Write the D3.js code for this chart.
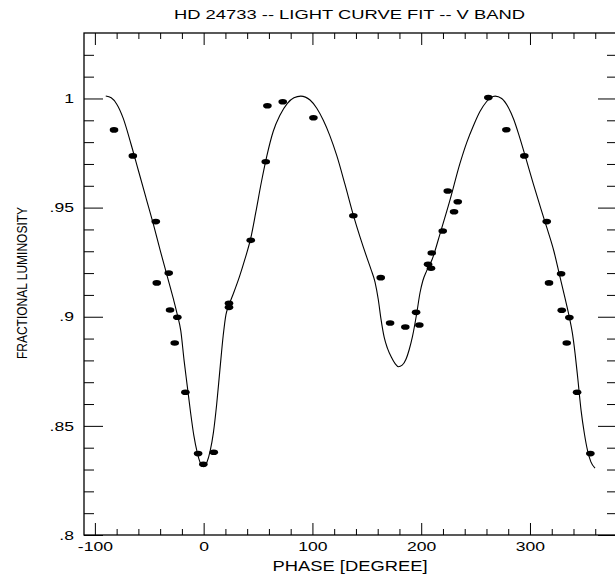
<!DOCTYPE html>
<html>
<head>
<meta charset="utf-8">
<script src="https://cdn.jsdelivr.net/npm/d3@7"></script>
<style>
  body { margin: 0; background: #fff; }
  text { font-family: "Liberation Sans", Arial, sans-serif; fill: #000; }
</style>
</head>
<body>
<script>
// observed points (phase in degrees, fractional luminosity)
var obsPhase = [-82.4, -65.1, -44.0, -43.1, -32.1, -30.9, -26.6, -24.2, -16.8, -5.1, -0.3, 9.3,
  23.3, 23.3, 43.3, 57.1, 58.6, 72.7, 100.9, 137.6, 162.8, 171.4, 185.4, 195.3, 198.3,
  206.3, 209.0, 209.7, 219.8, 224.4, 230.2, 233.6, 261.7, 278.3, 294.8, 315.4, 317.5,
  328.6, 329.2, 333.8, 336.2, 343.3, 355.5];
var obsLum = [0.9856, 0.9737, 0.9436, 0.9155, 0.9200, 0.9031, 0.8880, 0.8998, 0.8654, 0.8373, 0.8324, 0.8379,
  0.9062, 0.9043, 0.9350, 0.9710, 0.9967, 0.9985, 0.9912, 0.9463, 0.9179, 0.8971, 0.8953, 0.9020, 0.8962,
  0.9240, 0.9222, 0.9292, 0.9393, 0.9576, 0.9481, 0.9527, 1.0004, 0.9857, 0.9737, 0.9436, 0.9155,
  0.9197, 0.9030, 0.8880, 0.8996, 0.8654, 0.8373];

// fitted light curve
var fitPhase = [-90, -85, -80, -74, -67, -60, -53, -46, -40, -34, -28, -24, -21, -18, -15, -12, -9, -6, -3, 0,
  3, 6, 9, 12, 15, 18, 20.5, 23, 27, 33, 38, 43.3, 48, 53, 58, 64, 70, 77, 83, 89.3,
  97.8, 104, 110, 116, 122.4, 130, 137.6, 143.8, 150, 154, 157.5, 160.5, 163, 166, 169, 172.5, 176, 179,
  182.5, 186, 189, 192, 195.9, 198.9, 201.5, 205, 210, 217.3, 226.5, 235.5, 242, 248, 254, 260, 264, 268,
  274, 280, 285, 290, 296, 303, 310, 316, 322, 327, 332, 336.2, 339, 341.5, 344, 347, 350, 353, 356, 359.8];
var fitLum = [1.0011, 1.0003, 0.9975, 0.9910, 0.9795, 0.9670, 0.9545, 0.9420, 0.9305, 0.9195, 0.9085, 0.9005, 0.8935, 0.8800, 0.8680, 0.8560, 0.8455, 0.8380, 0.8330, 0.8313,
  0.8333, 0.8385, 0.8470, 0.8600, 0.8760, 0.8915, 0.9010, 0.9050, 0.9102, 0.9185, 0.9265, 0.9360, 0.9480, 0.9615, 0.9735, 0.9850, 0.9922, 0.9978, 1.0003, 1.0011,
  0.9993, 0.9955, 0.9900, 0.9830, 0.9738, 0.9605, 0.9466, 0.9365, 0.9272, 0.9215, 0.9160, 0.9080, 0.8990, 0.8905, 0.8855, 0.8815, 0.8785, 0.8771,
  0.8778, 0.8805, 0.8850, 0.8910, 0.9016, 0.9110, 0.9165, 0.9210, 0.9262, 0.9380, 0.9535, 0.9700, 0.9800, 0.9875, 0.9940, 0.9985, 1.0004, 1.0011,
  1.0000, 0.9960, 0.9905, 0.9830, 0.9730, 0.9610, 0.9495, 0.9400, 0.9300, 0.9195, 0.9090, 0.8998, 0.8925, 0.8830, 0.8715, 0.8570, 0.8465, 0.8385, 0.8335, 0.8306];

var xMajor = [-100, 0, 100, 200, 300];
var xLabels = ["-100", "0", "100", "200", "300"];
var yMajor = [0.8, 0.85, 0.9, 0.95, 1];
var yLabels = [".8", ".85", ".9", ".95", "1"];

var titleText = "HD 24733 -- LIGHT CURVE FIT -- V BAND";
var xTitle = "PHASE [DEGREE]";
var yTitle = "FRACTIONAL LUMINOSITY";

var margin = {top: 33, right: -2, bottom: 40, left: 84},
  W = 615, H = 575,
  width = W - margin.left - margin.right,
  height = H - margin.top - margin.bottom;

var stretch = 1.35; // glyphs in the reference are wide

var x = d3.scaleLinear().domain([-110, 380]).range([0, width]);
var y = d3.scaleLinear().domain([0.8, 1.03]).range([height, 0]);

// minor ticks every 20 deg / 0.01
var xMinor = d3.range(-80, 361, 20).filter(function(v) { return xMajor.indexOf(v) < 0; });
var yMinor = d3.range(81, 103).map(function(v) { return v / 100; })
  .filter(function(v) { return v % 0.05 > 0.001 && v % 0.05 < 0.049; });

var svg = d3.select("body").append("svg")
    .attr("width", W)
    .attr("height", H),
  g = svg.append("g")
    .attr("transform", "translate(" + margin.left + "," + margin.top + ")");

// frame
g.append("rect")
  .attr("width", width)
  .attr("height", height)
  .attr("fill", "none")
  .attr("stroke", "#000")
  .attr("stroke-width", 1.3);

function tidy(sel) {
  sel.select(".domain").remove();
  sel.selectAll("line").attr("stroke", "#000");
}

// bottom axis
var bottom = g.append("g")
  .attr("transform", "translate(0," + height + ")")
  .call(d3.axisBottom(x).tickValues(xMajor).tickSize(-12).tickPadding(7)
    .tickFormat(function(d, i) { return xLabels[i]; }));
bottom.call(tidy);
bottom.selectAll("text")
  .style("font-size", "13px")
  .attr("transform", "scale(" + stretch + ",1)");
g.append("g")
  .attr("transform", "translate(0," + height + ")")
  .call(d3.axisBottom(x).tickValues(xMinor).tickSize(-6).tickFormat(""))
  .call(tidy);

// top axis
g.append("g")
  .call(d3.axisTop(x).tickValues(xMajor).tickSize(-12).tickFormat(""))
  .call(tidy);
g.append("g")
  .call(d3.axisTop(x).tickValues(xMinor).tickSize(-6).tickFormat(""))
  .call(tidy);

// left axis
var left = g.append("g")
  .call(d3.axisLeft(y).tickValues(yMajor).tickSize(-19)
    .tickFormat(function(d, i) { return yLabels[i]; }));
left.call(tidy);
left.selectAll("text")
  .style("font-size", "13px")
  .attr("x", -10 / stretch)
  .attr("transform", "scale(" + stretch + ",1)");
g.append("g")
  .call(d3.axisLeft(y).tickValues(yMinor).tickSize(-10).tickFormat(""))
  .call(tidy);

// right axis
g.append("g")
  .attr("transform", "translate(" + width + ",0)")
  .call(d3.axisRight(y).tickValues(yMajor).tickSize(-19).tickFormat(""))
  .call(tidy);
g.append("g")
  .attr("transform", "translate(" + width + ",0)")
  .call(d3.axisRight(y).tickValues(yMinor).tickSize(-10).tickFormat(""))
  .call(tidy);

// fitted curve
var fit = fitPhase.map(function(p, i) { return [p, fitLum[i]]; });
var line = d3.line()
  .x(function(d) { return x(d[0]); })
  .y(function(d) { return y(d[1]); })
  .curve(d3.curveMonotoneX);

g.append("path")
  .datum(fit)
  .attr("d", line)
  .attr("fill", "none")
  .attr("stroke", "#000")
  .attr("stroke-width", 1.1);

// observations
g.selectAll(".obs")
  .data(obsPhase)
  .enter().append("ellipse")
  .attr("class", "obs")
  .attr("cx", function(d) { return x(d); })
  .attr("cy", function(d, i) { return y(obsLum[i]); })
  .attr("rx", 4.3)
  .attr("ry", 2.8)
  .attr("fill", "#000");

// titles
svg.append("text")
  .attr("x", margin.left + width / 2 - 1)
  .attr("y", 19)
  .attr("text-anchor", "middle")
  .attr("textLength", 351)
  .attr("lengthAdjust", "spacingAndGlyphs")
  .style("font-size", "13px")
  .text(titleText);

svg.append("text")
  .attr("x", 350)
  .attr("y", 571)
  .attr("text-anchor", "middle")
  .attr("textLength", 155)
  .attr("lengthAdjust", "spacingAndGlyphs")
  .style("font-size", "14px")
  .text(xTitle);

svg.append("text")
  .attr("transform", "translate(26.5,283) scale(1.28,1) rotate(-90)")
  .attr("text-anchor", "middle")
  .style("font-size", "12px")
  .text(yTitle);
</script>
</body>
</html>
